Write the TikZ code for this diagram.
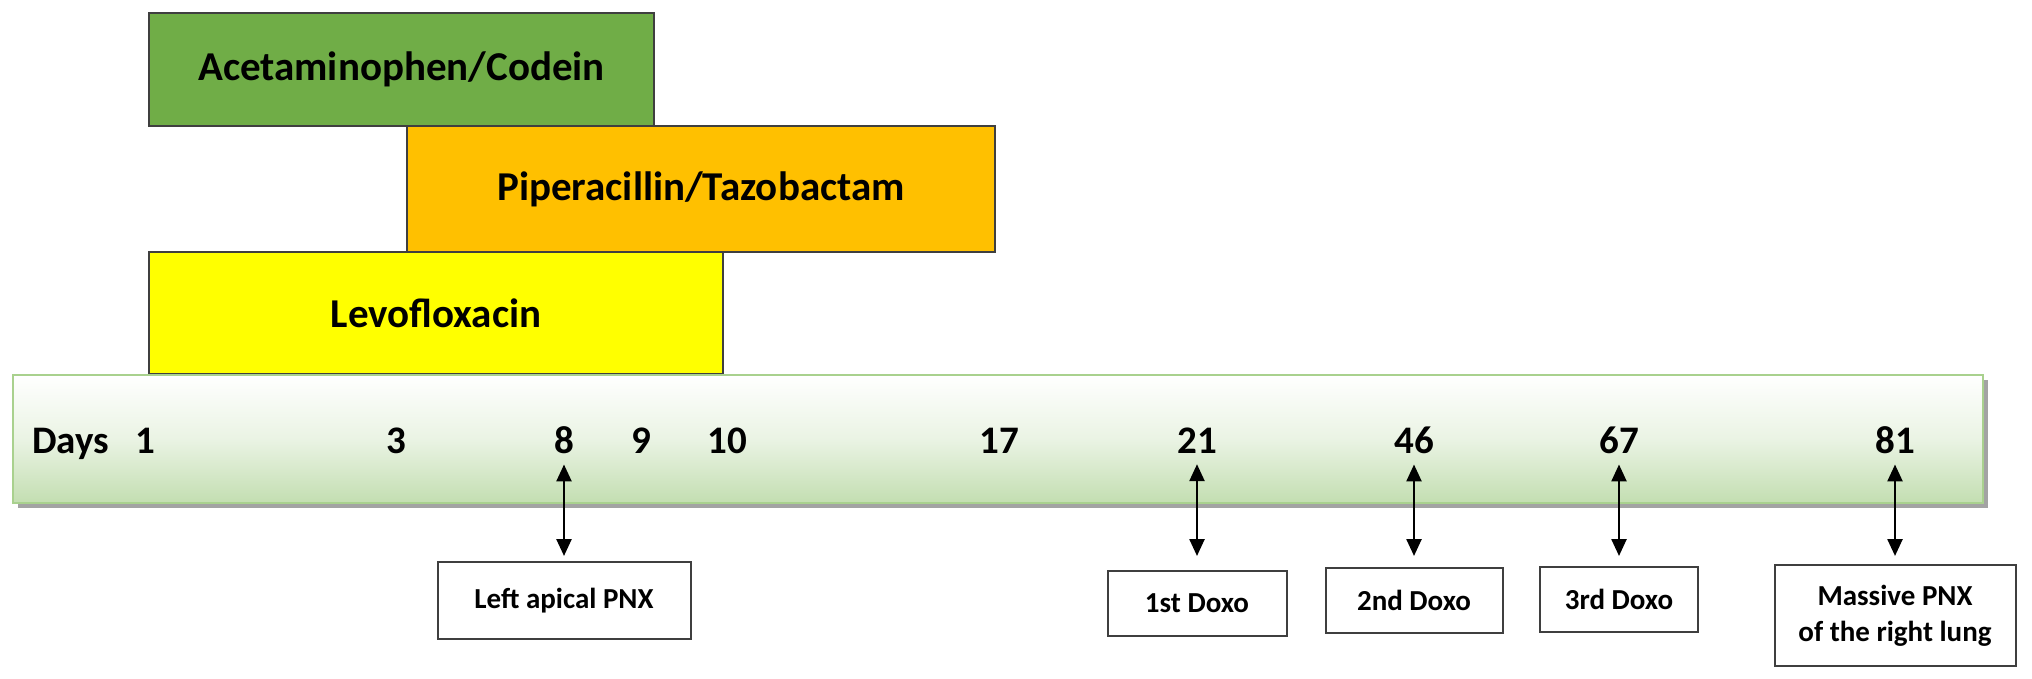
\documentclass[tikz,border=0pt]{standalone}
\usepackage{fontspec}
\setmainfont{Carlito}
\usetikzlibrary{shadows,arrows.meta}
\definecolor{accol}{HTML}{70AD47}
\definecolor{pipcol}{HTML}{FFC000}
\definecolor{levcol}{HTML}{FFFF00}
\definecolor{barline}{HTML}{A9D18E}
\definecolor{barbot}{HTML}{C3DEB1}
\definecolor{edgecol}{HTML}{3F3F3F}
\begin{document}
\begin{tikzpicture}[x=1pt,y=-1pt,
  drug/.style={draw=edgecol,line width=2pt,inner sep=0pt,font=\fontsize{41}{46}\selectfont\bfseries},
  tline/.style={draw=barline,line width=2pt,top color=white,bottom color=barbot,middle color=barbot!35,
    drop shadow={shadow xshift=5pt,shadow yshift=-5pt,fill=black!45,opacity=0.8},inner sep=0pt},
  num/.style={inner sep=0pt,font=\fontsize{39}{44}\selectfont\bfseries},
  evbox/.style={draw=edgecol,line width=2pt,fill=white,inner sep=0pt,align=center,font=\fontsize{29}{36}\selectfont\bfseries},
  dbl/.style={{Triangle[length=17pt,width=15pt]}-{Triangle[length=17pt,width=15pt]},line width=2.5pt}]
\useasboundingbox (0,0) rectangle (2032,679);
% drug bars
\node[drug,fill=accol,minimum width=505pt,minimum height=113pt] (acet) at (401.5,69.5) {Acetaminophen/Codein};
\node[drug,fill=pipcol,minimum width=588pt,minimum height=126pt] (pip) at (701,189) {Piperacillin/Tazobactam};
\node[drug,fill=levcol,minimum width=574pt,minimum height=122pt] (levo) at (436,313) {Levofloxacin};
% timeline bar
\node[tline,minimum width=1970pt,minimum height=128pt] (bar) at (998,439) {};
% labels
\node[num,anchor=base west] (days) at (32,453) {Days};
\node[num,anchor=base] (n1) at (145,453) {1};
\node[num,anchor=base] (n3) at (396,453) {3};
\node[num,anchor=base] (n8) at (564,453) {8};
\node[num,anchor=base] (n9) at (641,453) {9};
\node[num,anchor=base] (n10) at (727,453) {10};
\node[num,anchor=base] (n17) at (999,453) {17};
\node[num,anchor=base] (n21) at (1197,453) {21};
\node[num,anchor=base] (n46) at (1414,453) {46};
\node[num,anchor=base] (n67) at (1619,453) {67};
\node[num,anchor=base] (n81) at (1895,453) {81};
% event boxes
\node[evbox,minimum width=253pt,minimum height=77pt] (lap) at (564,600.5) {Left apical PNX};
\node[evbox,minimum width=179pt,minimum height=65pt] (d1) at (1197,603.5) {1st Doxo};
\node[evbox,minimum width=177pt,minimum height=65pt] (d2) at (1414,600.5) {2nd Doxo};
\node[evbox,minimum width=158pt,minimum height=65pt] (d3) at (1619,599.5) {3rd Doxo};
\node[evbox,minimum width=241pt,minimum height=101pt] (mass) at (1895,615.5) {Massive PNX\\of the right lung};
% arrows
\draw[dbl] ([yshift=-11pt]n8.south) -- ([yshift=5pt]lap.north);
\draw[dbl] ([yshift=-11pt]n21.south) -- ([yshift=14pt]d1.north);
\draw[dbl] ([yshift=-11pt]n46.south) -- ([yshift=11pt]d2.north);
\draw[dbl] ([yshift=-11pt]n67.south) -- ([yshift=10pt]d3.north);
\draw[dbl] ([yshift=-11pt]n81.south) -- ([yshift=8pt]mass.north);
\end{tikzpicture}
\end{document}
